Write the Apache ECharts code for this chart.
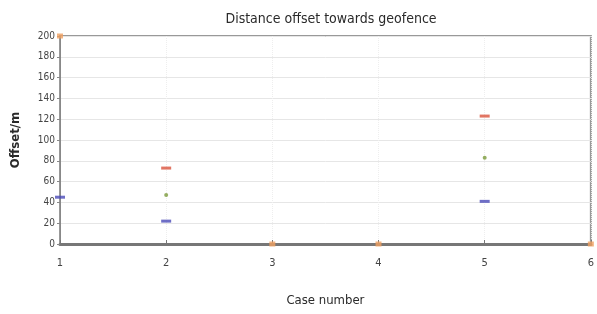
<!DOCTYPE html>
<html>
<head>
<meta charset="utf-8">
<script src="https://cdn.jsdelivr.net/npm/echarts@6/dist/echarts.min.js"></script>
<style>
html,body{margin:0;padding:0;background:#fff;}
#main{width:597px;height:314px;}
</style>
</head>
<body>
<div id="main"></div>
<script>
// case numbers and offsets
var cases = [1, 2, 3, 4, 5, 6];
var redOffset = [[2, 73], [5, 123]];
var greenOffset = [[2, 47], [5, 83]];
var blueOffset = [[1, 45], [2, 22], [5, 41]];
var orangeOffset = [[1, 200], [3, 0], [4, 0], [6, 0]];
var yTicks = [0, 20, 40, 60, 80, 100, 120, 140, 160, 180, 200];

var fontFam = '"Liberation Sans Narrow","DejaVu Sans Condensed",Arial,sans-serif';
var myChart = echarts.init(document.getElementById('main'));

function dash(name, data, color){
	return {
		name: name,
		type: 'scatter',
		symbol: 'rect',
		symbolSize: [10, 3],
		itemStyle: {color: color},
		data: data,
		z: 5
	};
}

var option = {
	animation: false,
	title: {
		text: 'Distance offset towards geofence',
		left: 326,
		textAlign: 'center',
		top: 7,
		textStyle: {fontSize: 14, fontWeight: 'normal', color: '#2a2a2a', fontFamily: fontFam}
	},
	grid: {
		left: 60, right: 4, top: 36, bottom: 70,
		show: true, borderColor: '#999', borderWidth: 2
	},
	xAxis: {
		type: 'value',
		min: 1, max: 6, interval: 1,
		name: 'Case number',
		nameLocation: 'middle',
		nameGap: 50,
		nameTextStyle: {fontSize: 13, color: '#2a2a2a', fontFamily: fontFam},
		axisLine: {onZero: false, lineStyle: {color: '#777', width: 3}},
		axisTick: {show: true, inside: true, length: 4, lineStyle: {color: '#777'}},
		axisLabel: {margin: 14, fontSize: 11, color: '#444', fontFamily: fontFam,
			formatter: function(v){ return cases.indexOf(v) >= 0 ? String(v) : ''; }},
		splitLine: {show: true, lineStyle: {color: '#eee', width: 1, type: 'dotted'}}
	},
	yAxis: {
		type: 'value',
		min: yTicks[0], max: yTicks[yTicks.length - 1], interval: 20,
		name: 'Offset/m',
		nameLocation: 'middle',
		nameGap: 38,
		nameTextStyle: {fontSize: 13, fontWeight: 'bold', color: '#2a2a2a', fontFamily: fontFam},
		axisLine: {show: true, lineStyle: {color: '#888', width: 1}},
		axisTick: {show: true, length: 3, lineStyle: {color: '#888'}},
		axisLabel: {margin: 5, fontSize: 10, color: '#444', fontFamily: fontFam},
		splitLine: {show: true, lineStyle: {color: '#e6e6e6', width: 1}}
	},
	series: [
		dash('red', redOffset, '#d9533c'),
		{
			name: 'green',
			type: 'scatter',
			symbol: 'circle',
			symbolSize: 4,
			itemStyle: {color: '#7a9a3a'},
			data: greenOffset,
			z: 5
		},
		dash('blue', blueOffset, '#4a4ab8'),
		{
			name: 'orange',
			type: 'scatter',
			symbol: 'rect',
			symbolSize: [6, 5],
			itemStyle: {color: '#f0a060'},
			data: orangeOffset,
			z: 6
		}
	]
};
myChart.setOption(option);
</script>
</body>
</html>
